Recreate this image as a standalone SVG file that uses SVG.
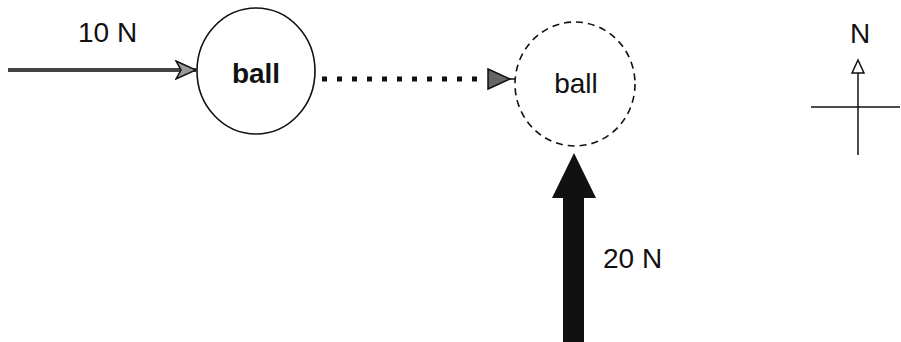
<svg xmlns="http://www.w3.org/2000/svg" width="901" height="342" viewBox="0 0 901 342">
<style>
text{font-family:"Liberation Sans",Arial,sans-serif;font-size:28px;fill:#111}
.ball{fill:none;stroke:#111;stroke-width:1.6}
</style>
<defs>
<marker id="open" markerWidth="22" markerHeight="20" refX="21" refY="10" orient="auto" markerUnits="userSpaceOnUse">
<path d="M1,1 L21,10 L1,19 L6,10 Z" fill="#999" stroke="#111" stroke-width="1.5"/>
</marker>
</defs>
<rect width="901" height="342" fill="#fff"/>
<g id="ball1">
<ellipse class="ball" cx="256" cy="71" rx="59" ry="63"/>
<text x="256" y="83" text-anchor="middle" font-weight="bold">ball</text>
</g>
<g id="ball2">
<ellipse class="ball" cx="575" cy="84" rx="60" ry="62" stroke-dasharray="7,5"/>
<text x="576" y="93" text-anchor="middle" font-size="30">ball</text>
</g>
<g id="labels">
<text x="78" y="42">10 N</text>
<text x="603" y="268" font-size="30">20 N</text>
</g>
<g id="connectors">
<line x1="8" y1="70" x2="196" y2="70" stroke="#444" stroke-width="4" marker-end="url(#open)"/>
<line x1="322" y1="79" x2="486" y2="79" stroke="#111" stroke-width="5" stroke-dasharray="5,10"/>
<path d="M488,69 L510,79 L488,89 Z" fill="#666" stroke="#111" stroke-width="1.5"/>
<line x1="510" y1="79" x2="515" y2="79" stroke="#111" stroke-width="1.5"/>
<path d="M563,342 L563,198 L552,198 L574,153 L596,198 L584,198 L584,342 Z" fill="#111"/>
</g>
<g id="compass">
<text x="860" y="43" text-anchor="middle" font-size="21">N</text>
<line x1="858" y1="62" x2="858" y2="155" stroke="#111" stroke-width="1.5"/>
<path d="M858,60 L864,73 L852,73 Z" fill="#fff" stroke="#111" stroke-width="1.5"/>
<line x1="811" y1="107" x2="900" y2="107" stroke="#111" stroke-width="1.5"/>
</g>
</svg>
